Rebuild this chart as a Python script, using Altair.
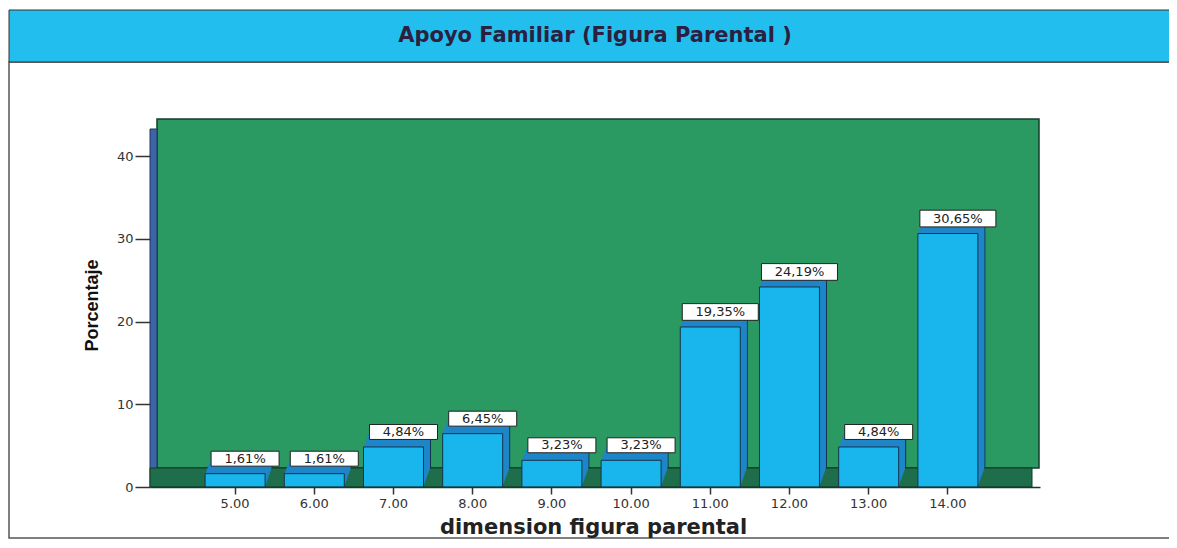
import altair as alt
import pandas as pd

categories = ["5.00", "6.00", "7.00", "8.00", "9.00", "10.00", "11.00", "12.00", "13.00", "14.00"]
percent = [1.61, 1.61, 4.84, 6.45, 3.23, 3.23, 19.35, 24.19, 4.84, 30.65]
labels = ["1,61%", "1,61%", "4,84%", "6,45%", "3,23%", "3,23%", "19,35%", "24,19%", "4,84%", "30,65%"]
y_ticks = [0, 10, 20, 30, 40]

df = pd.DataFrame({"cat": categories, "pct": percent, "lab": labels})
one = pd.DataFrame({"k": [0]})

W, H = 890, 368

xscale = alt.Scale(domain=categories, paddingInner=0.2424, paddingOuter=0.74, align=0.47)
yscale = alt.Scale(domain=[0, 44.5], nice=False, zero=True)

x_enc = alt.X(
    "cat:N", scale=xscale, sort=categories,
    axis=alt.Axis(
        title="dimension figura parental", labelAngle=0, zindex=2,
        domain=True, domainColor="#173a2a", domainWidth=1.5,
        ticks=True, tickSize=7, tickColor="#333333", tickWidth=1.5,
        labelFont="DejaVu Sans", labelFontSize=13, labelColor="#333333", labelPadding=3,
        titleFont="DejaVu Sans", titleFontSize=21, titleFontWeight="bold", titleColor="#222222",
        titleX=443, titleY=46, titleBaseline="alphabetic", titleAlign="center",
        grid=False,
    ),
)
y_enc = alt.Y(
    "pct:Q", scale=yscale,
    axis=alt.Axis(
        title="Porcentaje", values=y_ticks, format="d", zindex=2,
        domain=False, ticks=True, tickSize=15, tickColor="#333333", tickWidth=1.5,
        labelFont="DejaVu Sans", labelFontSize=13, labelColor="#333333", labelPadding=2,
        titleFont="Liberation Sans", titleFontSize=18,
        titleFontWeight="bold", titleColor="#111111",
        titleX=-58, titleY=186, titleAlign="center", titleBaseline="middle",
        grid=False,
    ),
)

deco = alt.Chart(one)

panel = deco.mark_rect(fill="white", stroke="#555555", strokeWidth=1.5).encode(
    x=alt.value(-141), x2=alt.value(W + 140), y=alt.value(-57), y2=alt.value(419)
)
band = deco.mark_rect(fill="#22BFEE", stroke="#333333", strokeWidth=1).encode(
    x=alt.value(-141), x2=alt.value(W + 140), y=alt.value(-109), y2=alt.value(-57)
)
title = deco.mark_text(
    text="Apoyo Familiar (Figura Parental )", font="DejaVu Sans", fontSize=21,
    fontWeight="bold", color="#2B2040", align="center", baseline="middle"
).encode(x=alt.value(445), y=alt.value(-83))

wall = deco.mark_rect(fill="#2A9A62", stroke="#173d2c", strokeWidth=1.5).encode(
    x=alt.value(7), x2=alt.value(W - 1), y=alt.value(0), y2=alt.value(H - 19)
)
left_wall = deco.mark_rect(fill="#3C64A8", stroke="#22365a", strokeWidth=1).encode(
    x=alt.value(0), x2=alt.value(7), y=alt.value(10), y2=alt.value(H)
)
floor = deco.mark_rect(fill="#1F6E4B", stroke="#143a29", strokeWidth=1).encode(
    x=alt.value(0), x2=alt.value(W - 8), y=alt.value(H - 19), y2=alt.value(H)
)

base = alt.Chart(df)

depth_layers = []
steps = 10
for i in range(steps, 0, -1):
    f = i / steps
    kw = dict(fill="#1E86C8", xOffset=7 * f, x2Offset=7 * f, yOffset=-19 * f, y2Offset=-19 * f)
    if i == steps:
        kw.update(stroke="#12324f", strokeWidth=1)
    else:
        kw.update(strokeWidth=0)
    depth_layers.append(base.mark_bar(**kw).encode(x=x_enc, y=y_enc))

front = base.mark_bar(fill="#19B6EE", stroke="#16324a", strokeWidth=1).encode(x=x_enc, y=y_enc)

box_path = "M-1,-0.22L1,-0.22L1,0.22L-1,0.22Z"
boxes = base.mark_point(
    shape=box_path, filled=True, fill="white", stroke="#222222", strokeWidth=1,
    opacity=1, fillOpacity=1, xOffset=10, yOffset=-15
).encode(
    x=x_enc, y=y_enc,
    size=alt.condition(alt.datum.pct >= 10, alt.value(5776), alt.value(4624)),
)
texts = base.mark_text(
    font="DejaVu Sans", fontSize=13, color="#222222", align="center", baseline="middle",
    dx=10, dy=-15
).encode(x=x_enc, y=y_enc, text="lab:N")

chart = alt.layer(
    panel, band, title, wall, left_wall, floor, *depth_layers, front, boxes, texts
).properties(
    width=W, height=H, autosize="none",
    padding={"left": 142, "top": 111, "right": 129, "bottom": 53},
    background="white",
).configure_view(strokeWidth=0)

chart.save("out.html", embed_options={"renderer": "svg", "actions": False})
